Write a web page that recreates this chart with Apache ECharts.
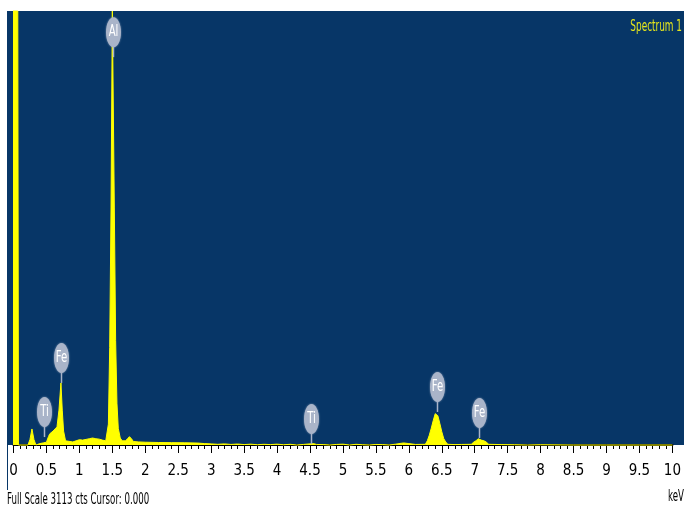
<!DOCTYPE html>
<html>
<head>
<meta charset="utf-8">
<style>
html,body{margin:0;padding:0;background:#fff;}
#chart{width:684px;height:512px;}
</style>
<script src="https://cdn.jsdelivr.net/npm/echarts@6/dist/echarts.min.js"></script>
</head>
<body>
<div id="chart"></div>
<script>
// Spectrum: energy (keV) and counts
const energies = [
  -0.03,-0.02,0.065,0.075,0.22,0.25,0.28,0.31,0.34,0.40,0.45,0.50,0.53,0.55,0.58,0.60,0.63,0.66,0.69,0.72,0.74,0.76,0.79,0.82,
  0.90,0.95,1.00,1.05,1.10,1.15,1.20,1.25,1.30,1.35,1.40,1.42,1.44,1.46,1.48,1.50,1.51,1.53,1.55,1.57,1.59,1.62,1.65,
  1.70,1.73,1.76,1.79,1.82,1.90,2.00,2.20,2.40,2.60,2.80,2.90,3.00,3.10,3.20,3.30,3.40,3.50,3.60,3.70,3.80,3.90,
  4.00,4.10,4.20,4.30,4.40,4.50,4.55,4.60,4.70,4.80,4.90,5.00,5.10,5.20,5.30,5.40,5.50,5.60,5.70,5.80,5.92,6.00,
  6.10,6.25,6.28,6.31,6.34,6.37,6.40,6.42,6.44,6.47,6.50,6.53,6.56,6.59,6.70,6.80,6.95,6.98,7.02,7.05,7.07,7.10,7.14,7.18,7.21,
  7.40,7.60,7.80,8.00,8.50,9.00,9.50,10.00
];
const counts = [
  0,3113,3113,0,0,40,115,40,0,10,15,20,60,80,75,100,115,130,250,445,250,100,30,20,
  22,30,38,35,40,45,50,45,42,35,30,40,150,700,1700,3113,3113,1700,750,300,120,50,30,
  30,45,60,45,25,22,20,18,17,16,14,10,8,5,8,4,7,3,6,2,5,3,
  6,2,5,0,4,8,10,4,3,0,4,6,0,5,2,0,4,3,0,6,15,10,
  4,5,30,70,120,175,225,237,210,155,95,45,22,5,3,4,5,20,30,45,50,35,30,20,5,
  3,2,0,2,0,0,0,0
];
// Element markers
const markerLabels = ['Al','Fe','Ti','Ti','Fe','Fe'];
const markerEnergies = [1.504, 0.72, 0.46, 4.51, 6.42, 7.07];
const markerCounts = [2782, 445, 57, 7, 237, 50];
// Axis tick labels
const tickStep = 0.5;
const axisMin = 0, axisMax = 10;
// Captions
const footerText = 'Full Scale 3113 cts Cursor: 0.000';
const unitText = 'keV';
const legendText = 'Spectrum 1';

const spectrum = energies.map((e, i) => [e, counts[i]]);
const markers = markerEnergies.map((e, i) => [e, markerCounts[i], markerLabels[i]]);

const FONT = '"DejaVu Sans Condensed","Liberation Sans",sans-serif';
const chart = echarts.init(document.getElementById('chart'));
chart.setOption({
  animation: false,
  backgroundColor: '#ffffff',
  graphic: [
    {type: 'rect', z: -10, shape: {x: 7, y: 11, width: 677, height: 434}, style: {fill: '#073667'}},
    {type: 'line', z: -10, shape: {x1: 7.5, y1: 11, x2: 7.5, y2: 490}, style: {stroke: '#073667', lineWidth: 1}},
    {type: 'text', x: 7, y: 492, scaleX: 0.6, style: {text: footerText, fill: '#000', font: '16px ' + FONT}},
    {type: 'text', x: 684, y: 489, scaleX: 0.6, style: {text: unitText, fill: '#000', align: 'right', font: '16px ' + FONT}},
    {type: 'text', x: 682, y: 20, scaleX: 0.66, style: {text: legendText, fill: '#e6e61c', align: 'right', font: '15px ' + FONT}}
  ],
  grid: {left: 13.5, right: 9, top: 11, bottom: 67, containLabel: false},
  xAxis: {
    type: 'value', min: axisMin, max: axisMax, interval: tickStep,
    axisLine: {show: true, onZero: false, lineStyle: {color: '#000', width: 2}},
    axisTick: {show: true, inside: false, length: 8, lineStyle: {color: '#000', width: 1}},
    minorTick: {show: true, splitNumber: 5, length: 4, lineStyle: {color: '#000', width: 1}},
    splitLine: {show: false},
    axisLabel: {color: '#000', fontFamily: FONT, fontSize: 15, margin: 19,
      formatter: v => String(Math.round(v * 10) / 10)}
  },
  yAxis: {type: 'value', min: 0, max: 3113, show: false, splitLine: {show: false}},
  series: [
    {
      type: 'line', data: spectrum, showSymbol: false, symbol: 'none', clip: false, z: 2,
      lineStyle: {color: '#ffff00', width: 1},
      areaStyle: {color: '#ffff00', opacity: 1}
    },
    {
      type: 'custom', data: markers, z: 5, clip: false,
      renderItem: (params, api) => {
        const p = api.coord([api.value(0), api.value(1)]);
        const cx = Math.round(p[0]) + 0.5, by = p[1];
        const stem = 10, rx = 7.5, ry = 15;
        const cy = by - stem - ry;
        return {
          type: 'group', children: [
            {type: 'line', shape: {x1: cx, y1: by, x2: cx, y2: by - stem - 2}, style: {stroke: '#a9b4c9', lineWidth: 1.5}},
            {type: 'ellipse', shape: {cx: cx, cy: cy, rx: rx, ry: ry}, style: {fill: '#a9b4c9', shadowBlur: 2, shadowColor: 'rgba(170,180,200,0.8)'}},
            {type: 'text', x: cx, y: cy, scaleX: 0.75, style: {text: markers[params.dataIndex][2], x: 0, y: 0, align: 'center', verticalAlign: 'middle',
              fill: '#ffffff', font: '15px ' + FONT}}
          ]
        };
      }
    }
  ]
});
</script>
</body>
</html>
